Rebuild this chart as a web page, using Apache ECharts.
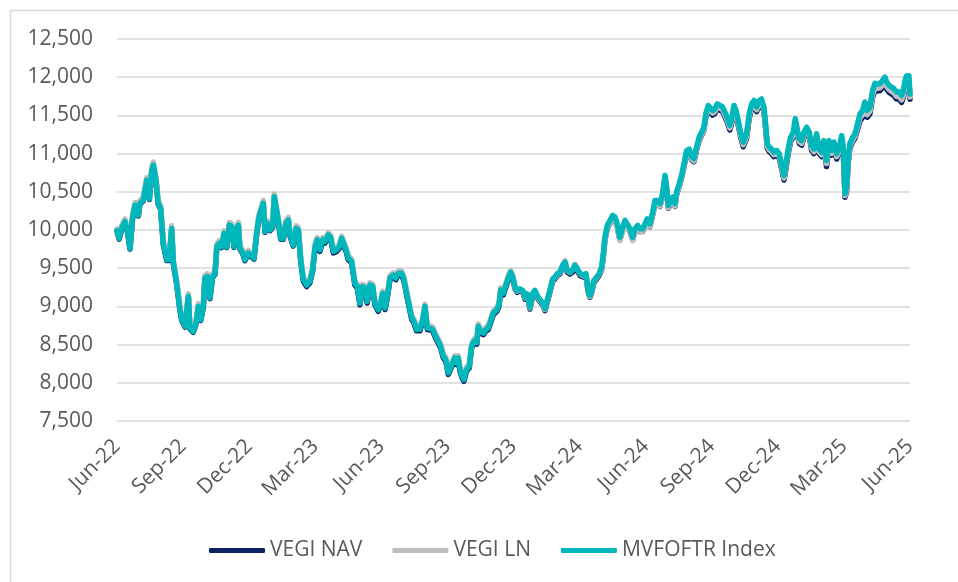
<!DOCTYPE html>
<html>
<head>
    <meta charset="utf-8">
    <title>VEGI vs MVFOFTR</title>
    <script src="https://cdn.jsdelivr.net/npm/echarts@6.0.0/dist/echarts.min.js"></script>
    <style>
        html, body { margin: 0; padding: 0; background: #fff; }
    </style>
</head>
<body>
<div id="main" style="width: 958px;height:582px;"></div>
<script type="text/javascript">
    // months since Jun-22
    const months = [
        0, 0.10, 0.21, 0.36, 0.47, 0.59, 0.71, 0.82, 0.97, 1.04,
        1.19, 1.35, 1.47, 1.58, 1.65, 1.77, 1.87, 1.98, 2.10, 2.26,
        2.37, 2.48, 2.56, 2.71, 2.86, 2.94, 3.09, 3.24, 3.31, 3.46,
        3.59, 3.69, 3.80, 3.92, 3.99, 4.10, 4.22, 4.34, 4.45, 4.53,
        4.64, 4.75, 4.86, 4.98, 5.10, 5.21, 5.31, 5.43, 5.51, 5.58,
        5.71, 5.81, 5.96, 6.11, 6.22, 6.34, 6.45, 6.57, 6.64, 6.72,
        6.82, 6.95, 7.07, 7.14, 7.22, 7.32, 7.43, 7.55, 7.67, 7.78,
        7.85, 8.00, 8.13, 8.23, 8.34, 8.46, 8.61, 8.76, 8.88, 8.99,
        9.09, 9.21, 9.34, 9.44, 9.59, 9.70, 9.82, 9.97, 10.09, 10.20,
        10.27, 10.40, 10.50, 10.65, 10.80, 10.91, 11.03, 11.15, 11.26, 11.36,
        11.48, 11.61, 11.71, 11.86, 11.97, 12.06, 12.17, 12.27, 12.39, 12.54,
        12.66, 12.77, 12.92, 13.03, 13.15, 13.27, 13.38, 13.48, 13.60, 13.75,
        13.88, 13.98, 14.09, 14.21, 14.33, 14.43, 14.58, 14.69, 14.81, 14.93,
        15.04, 15.12, 15.24, 15.34, 15.42, 15.49, 15.57, 15.67, 15.75, 15.87,
        15.99, 16.10, 16.21, 16.33, 16.40, 16.51, 16.63, 16.75, 16.85, 16.96,
        17.08, 17.24, 17.34, 17.42, 17.54, 17.66, 17.76, 17.87, 17.96, 18.07,
        18.17, 18.29, 18.42, 18.52, 18.62, 18.75, 18.87, 18.97, 19.12, 19.23,
        19.35, 19.43, 19.53, 19.65, 19.78, 19.88, 19.99, 20.11, 20.23, 20.34,
        20.44, 20.56, 20.69, 20.79, 20.89, 21.02, 21.17, 21.29, 21.39, 21.47,
        21.55, 21.65, 21.78, 21.89, 22.00, 22.08, 22.15, 22.26, 22.38, 22.50,
        22.61, 22.71, 22.83, 22.96, 23.06, 23.16, 23.29, 23.41, 23.51, 23.64,
        23.74, 23.86, 23.97, 24.07, 24.19, 24.32, 24.42, 24.53, 24.65, 24.77,
        24.88, 24.95, 25.03, 25.10, 25.22, 25.33, 25.40, 25.52, 25.63, 25.74,
        25.86, 25.98, 26.09, 26.19, 26.31, 26.43, 26.54, 26.64, 26.73, 26.84, 26.92,
        27.04, 27.14, 27.25, 27.37, 27.49, 27.60, 27.70, 27.82, 27.90, 28.01,
        28.10, 28.20, 28.31, 28.43, 28.51, 28.58, 28.70, 28.81, 28.92, 29.04,
        29.16, 29.26, 29.37, 29.46, 29.52, 29.61, 29.72, 29.82, 29.95, 30.06,
        30.17, 30.28, 30.37, 30.47, 30.58, 30.70, 30.79, 30.88, 30.97, 31.08,
        31.19, 31.31, 31.43, 31.53, 31.64, 31.76, 31.88, 31.99, 32.09, 32.21,
        32.33, 32.44, 32.55, 32.67, 32.79, 32.90, 32.97, 33.05, 33.12, 33.20,
        33.27, 33.40, 33.50, 33.60, 33.73, 33.85, 33.95, 34.06, 34.18, 34.30,
        34.41, 34.51, 34.64, 34.76, 34.86, 34.94, 35.06, 35.16, 35.27, 35.39,
        35.51, 35.62, 35.70, 35.77, 35.85, 35.95, 36
    ];

    const vegiNav = [
        9985, 9880, 10010, 10100, 9990, 9750, 10160, 10315, 10185, 10340,
        10380, 10640, 10400, 10770, 10840, 10640, 10340, 10275, 9815, 9600,
        9600, 10010, 9555, 9290, 8945, 8815, 8730, 9120, 8705, 8660,
        8770, 8990, 8815, 8990, 9360, 9380, 9100, 9380, 9420, 9770,
        9815, 9770, 9945, 9770, 10055, 10035, 9770, 9990, 10055, 9750,
        9690, 9600, 9690, 9645, 9620, 9945, 10165, 10275, 10340, 9970,
        10080, 9990, 10035, 10425, 10425, 10120, 9880, 9880, 10080, 10120,
        9925, 9790, 10010, 9990, 9590, 9330, 9260, 9310, 9460, 9760,
        9850, 9720, 9850, 9830, 9915, 9880, 9700, 9720, 9760, 9870,
        9850, 9720, 9610, 9570, 9280, 9240, 9020, 9240, 9220, 9045,
        9260, 9240, 9020, 8935, 9020, 9150, 8960, 9110, 9350, 9390,
        9350, 9415, 9415, 9330, 9150, 8980, 8830, 8785, 8680, 8680,
        8805, 8980, 8695, 8695, 8680, 8610, 8525, 8460, 8330, 8280,
        8110, 8085, 8240, 8305, 8240, 8305, 8155, 8065, 8020, 8155,
        8195, 8460, 8525, 8505, 8720, 8650, 8630, 8680, 8695, 8785,
        8890, 8935, 9000, 9195, 9150, 9260, 9350, 9425, 9370, 9230,
        9185, 9205, 9185, 9095, 9140, 8965, 9140, 9185, 9095, 9055,
        9010, 8945, 9055, 9185, 9335, 9360, 9405, 9425, 9515, 9555,
        9450, 9425, 9450, 9515, 9470, 9405, 9385, 9405, 9185, 9120,
        9185, 9315, 9360, 9405, 9480, 9655, 9870, 10025, 10090, 10155,
        10135, 10045, 9870, 10005, 10090, 10045, 9980, 9870, 9980, 10025,
        9980, 9980, 10045, 10110, 10045, 10200, 10350, 10350, 10310, 10440,
        10680, 10525, 10285, 10265, 10395, 10310, 10460, 10570, 10680, 10830,
        11000, 11020, 10915, 10895, 11045, 11175, 11240, 11305, 11475, 11585, 11600,
        11505, 11525, 11590, 11570, 11550, 11480, 11415, 11310, 11395, 11570,
        11505, 11375, 11220, 11090, 11070, 11200, 11460, 11590, 11635, 11550,
        11635, 11655, 11550, 11285, 11070, 11025, 11000, 10960, 10980, 10940,
        10805, 10655, 10805, 11000, 11155, 11220, 11395, 11375, 11135, 11110,
        11220, 11285, 11220, 11045, 11000, 11200, 11000, 10960, 11110, 10830,
        11110, 10980, 11090, 10930, 11025, 11175, 11025, 10430, 10500, 10895,
        11070, 11155, 11200, 11300, 11430, 11475, 11585, 11475, 11520, 11735,
        11830, 11820, 11825, 11870, 11910, 11845, 11800, 11780, 11760, 11715,
        11715, 11670, 11735, 11865, 11930, 11930, 11710
    ];

    const vegiLn = [
        10015, 9925, 10055, 10145, 10035, 9795, 10205, 10360, 10230, 10385,
        10425, 10685, 10445, 10815, 10890, 10685, 10385, 10320, 9860, 9645,
        9645, 10055, 9600, 9335, 8990, 8860, 8775, 9165, 8750, 8705,
        8815, 9035, 8860, 9035, 9405, 9425, 9145, 9425, 9465, 9815,
        9860, 9815, 9990, 9815, 10100, 10080, 9815, 10035, 10100, 9795,
        9735, 9645, 9735, 9690, 9665, 9990, 10210, 10320, 10390, 10015,
        10125, 10035, 10080, 10470, 10475, 10165, 9925, 9925, 10125, 10165,
        9970, 9835, 10055, 10035, 9640, 9380, 9310, 9360, 9510, 9810,
        9900, 9770, 9900, 9880, 9965, 9930, 9750, 9770, 9810, 9920,
        9900, 9770, 9660, 9620, 9330, 9290, 9070, 9290, 9270, 9095,
        9310, 9290, 9070, 8985, 9070, 9200, 9010, 9160, 9400, 9440,
        9400, 9465, 9465, 9380, 9200, 9030, 8880, 8835, 8730, 8730,
        8855, 9030, 8745, 8745, 8730, 8660, 8575, 8510, 8380, 8330,
        8160, 8135, 8290, 8355, 8290, 8355, 8205, 8115, 8070, 8205,
        8245, 8510, 8575, 8555, 8770, 8700, 8680, 8730, 8745, 8835,
        8940, 8985, 9050, 9245, 9200, 9310, 9400, 9470, 9410, 9245,
        9200, 9220, 9200, 9110, 9155, 8980, 9155, 9200, 9110, 9070,
        9025, 8960, 9070, 9200, 9350, 9375, 9420, 9440, 9530, 9600,
        9470, 9445, 9480, 9550, 9490, 9425, 9400, 9420, 9195, 9130,
        9200, 9330, 9375, 9420, 9485, 9660, 9875, 10030, 10095, 10160,
        10135, 10040, 9860, 10000, 10090, 10040, 9975, 9860, 9975, 10025,
        9985, 9985, 10050, 10115, 10050, 10205, 10355, 10355, 10315, 10445,
        10690, 10530, 10290, 10270, 10400, 10315, 10465, 10575, 10685, 10835,
        11010, 11030, 10925, 10905, 11055, 11185, 11250, 11315, 11490, 11600, 11615,
        11530, 11550, 11615, 11595, 11575, 11505, 11440, 11335, 11420, 11595,
        11530, 11400, 11245, 11115, 11095, 11225, 11485, 11615, 11660, 11575,
        11660, 11680, 11575, 11310, 11095, 11050, 11025, 10985, 11005, 10965,
        10830, 10680, 10830, 11025, 11180, 11245, 11420, 11400, 11160, 11135,
        11245, 11310, 11245, 11070, 11025, 11225, 11025, 10985, 11135, 10870,
        11135, 11005, 11115, 10960, 11050, 11200, 11050, 10450, 10520, 10920,
        11095, 11180, 11225, 11330, 11470, 11510, 11620, 11510, 11555, 11770,
        11865, 11855, 11860, 11905, 11945, 11880, 11835, 11815, 11795, 11750,
        11750, 11705, 11770, 11900, 11965, 11965, 11740
    ];

    const mvfoftr = [
        9990, 9890, 10020, 10110, 10000, 9760, 10170, 10325, 10195, 10350,
        10390, 10650, 10410, 10780, 10850, 10650, 10350, 10285, 9825, 9610,
        9610, 10020, 9565, 9300, 8955, 8825, 8740, 9130, 8715, 8670,
        8780, 9000, 8825, 9000, 9370, 9390, 9110, 9390, 9430, 9780,
        9825, 9780, 9955, 9780, 10065, 10045, 9780, 10000, 10065, 9760,
        9700, 9610, 9700, 9655, 9630, 9955, 10175, 10285, 10350, 9980,
        10090, 10000, 10045, 10435, 10435, 10130, 9890, 9890, 10090, 10130,
        9935, 9800, 10020, 10000, 9610, 9350, 9280, 9330, 9480, 9780,
        9870, 9740, 9870, 9850, 9935, 9900, 9720, 9740, 9780, 9890,
        9870, 9740, 9630, 9590, 9300, 9260, 9040, 9260, 9240, 9065,
        9280, 9260, 9040, 8955, 9040, 9170, 8980, 9130, 9370, 9410,
        9370, 9435, 9435, 9350, 9170, 9000, 8850, 8805, 8700, 8700,
        8825, 9000, 8715, 8715, 8700, 8630, 8545, 8480, 8350, 8300,
        8130, 8105, 8260, 8325, 8260, 8325, 8175, 8085, 8040, 8175,
        8215, 8480, 8545, 8525, 8740, 8670, 8650, 8700, 8715, 8805,
        8910, 8955, 9020, 9215, 9170, 9280, 9370, 9445, 9390, 9255,
        9210, 9230, 9210, 9120, 9165, 8990, 9165, 9210, 9120, 9080,
        9035, 8970, 9080, 9210, 9360, 9385, 9430, 9450, 9540, 9580,
        9475, 9450, 9475, 9540, 9495, 9430, 9410, 9430, 9210, 9145,
        9210, 9340, 9385, 9430, 9515, 9690, 9905, 10060, 10125, 10190,
        10170, 10080, 9905, 10040, 10125, 10080, 10015, 9905, 10015, 10060,
        10015, 10015, 10080, 10145, 10080, 10235, 10385, 10385, 10345, 10475,
        10715, 10560, 10320, 10300, 10430, 10345, 10495, 10605, 10715, 10865,
        11040, 11060, 10955, 10935, 11085, 11215, 11280, 11345, 11520, 11630, 11650,
        11565, 11585, 11650, 11630, 11610, 11540, 11475, 11370, 11455, 11630,
        11565, 11435, 11280, 11150, 11130, 11260, 11520, 11650, 11695, 11610,
        11695, 11715, 11610, 11345, 11130, 11085, 11060, 11020, 11040, 11000,
        10865, 10715, 10865, 11060, 11215, 11280, 11455, 11435, 11195, 11170,
        11280, 11345, 11280, 11105, 11060, 11260, 11060, 11020, 11170, 10910,
        11170, 11040, 11150, 11000, 11085, 11235, 11085, 10475, 10560, 10955,
        11130, 11215, 11260, 11370, 11520, 11565, 11675, 11565, 11610, 11825,
        11920, 11910, 11915, 11960, 12000, 11935, 11890, 11870, 11850, 11805,
        11805, 11760, 11825, 11955, 12020, 12020, 11780
    ];

    const tickLabels = ['Jun-22', 'Sep-22', 'Dec-22', 'Mar-23', 'Jun-23', 'Sep-23', 'Dec-23',
        'Mar-24', 'Jun-24', 'Sep-24', 'Dec-24', 'Mar-25', 'Jun-25'];

    const seriesNames = ['VEGI NAV', 'VEGI LN', 'MVFOFTR Index'];
    const seriesColors = ['#0b2265', '#bfbfbf', '#00b8bb'];

    const font = '"Open Sans", "Noto Sans", sans-serif';
    const textColor = '#595959';

    function pairs(values) {
        return months.map(function (m, i) { return [m, values[i]]; });
    }

    const myChart = echarts.init(document.getElementById('main'));

    const option = {
        animation: false,
        backgroundColor: '#ffffff',
        graphic: [{
            type: 'rect',
            silent: true,
            z: -1,
            shape: {x: 10.5, y: 10.5, width: 1000, height: 1000},
            style: {fill: 'none', stroke: '#d9d9d9', lineWidth: 1.5}
        }],
        grid: {
            left: 117,
            right: 48,
            top: 39,
            bottom: 161,
            containLabel: false,
            outerBoundsMode: 'none'
        },
        legend: {
            left: 204,
            top: 535,
            icon: 'roundRect',
            itemWidth: 56,
            itemHeight: 5,
            itemGap: 30,
            data: seriesNames,
            textStyle: {fontFamily: font, fontSize: 21, color: textColor}
        },
        xAxis: {
            type: 'value',
            min: 0,
            max: 36,
            interval: 3,
            axisLine: {show: false},
            axisTick: {show: false},
            splitLine: {show: false},
            axisLabel: {
                rotate: 45,
                margin: 22,
                fontFamily: font,
                fontSize: 21,
                color: textColor,
                formatter: function (v) { return tickLabels[Math.round(v / 3)]; }
            }
        },
        yAxis: {
            type: 'value',
            min: 7500,
            max: 12500,
            interval: 500,
            axisLine: {show: false},
            axisTick: {show: false},
            splitLine: {lineStyle: {color: '#d9d9d9', width: 1.5}},
            axisLabel: {
                margin: 24,
                fontFamily: font,
                fontSize: 21,
                color: textColor,
                formatter: function (v) { return v.toLocaleString('en-US'); }
            }
        },
        series: [vegiNav, vegiLn, mvfoftr].map(function (vals, k) {
            return {
                name: seriesNames[k],
                type: 'line',
                symbol: 'none',
                color: seriesColors[k],
                lineStyle: {width: 5.5, color: seriesColors[k], cap: 'round', join: 'round'},
                data: pairs(vals)
            };
        })
    };

    myChart.setOption(option);
</script>
</body>
</html>
